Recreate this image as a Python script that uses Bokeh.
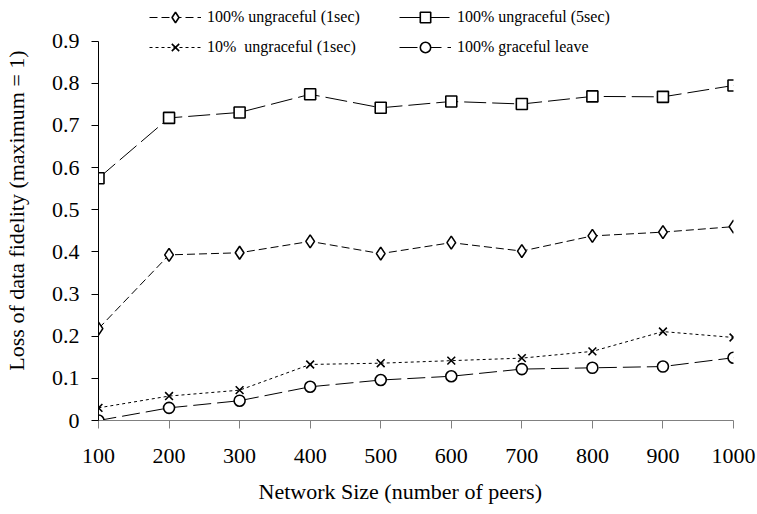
from bokeh.plotting import figure
from bokeh.models import Range1d, FixedTicker, CustomJSTickFormatter, Legend, LegendItem, Title
from bokeh.embed import file_html
from bokeh.resources import INLINE

network_size = [100, 200, 300, 400, 500, 600, 700, 800, 900, 1000]
ungraceful_1sec = [0.218, 0.393, 0.398, 0.425, 0.396, 0.422, 0.402, 0.438, 0.447, 0.460]
ungraceful_5sec = [0.575, 0.718, 0.731, 0.774, 0.742, 0.757, 0.751, 0.769, 0.768, 0.795]
ungraceful_10pct = [0.030, 0.058, 0.072, 0.133, 0.136, 0.142, 0.148, 0.164, 0.211, 0.197]
graceful_leave = [0.000, 0.030, 0.047, 0.080, 0.096, 0.105, 0.122, 0.125, 0.128, 0.149]
y_ticks = [0, 0.1, 0.2, 0.3, 0.4, 0.5, 0.6, 0.7, 0.8, 0.9]

FONT = "Liberation Serif"

p = figure(width=757, height=514, output_backend="svg", toolbar_location=None,
           x_range=Range1d(100, 1000), y_range=Range1d(0, 0.9966),
           min_border_left=97, min_border_right=24, min_border_top=0, min_border_bottom=94)
p.outline_line_color = None
p.xgrid.visible = False
p.ygrid.visible = False
p.background_fill_color = "white"

# x axis
p.xaxis.ticker = FixedTicker(ticks=network_size)
p.xaxis.axis_line_color = "#808080"
p.xaxis.major_tick_line_color = "#808080"
p.xaxis.major_tick_out = 8
p.xaxis.major_tick_in = 0
p.xaxis.minor_tick_line_color = None
p.xaxis.major_label_text_font = FONT
p.xaxis.major_label_text_font_size = "22px"
p.xaxis.major_label_text_color = "black"
p.xaxis.major_label_standoff = 20

x_title = Title(text="Network Size (number of peers)", align="left", offset=160,
                text_font=FONT, text_font_size="22px", text_font_style="normal",
                text_color="black", standoff=22)
p.add_layout(x_title, "below")

# y axis
p.yaxis.ticker = FixedTicker(ticks=y_ticks)
p.yaxis.bounds = (0, 0.9)
p.yaxis.formatter = CustomJSTickFormatter(code="return tick == 0 ? '0' : tick.toFixed(1);")
p.yaxis.axis_line_color = "black"
p.yaxis.major_tick_line_color = "black"
p.yaxis.major_tick_out = 7
p.yaxis.major_tick_in = 0
p.yaxis.minor_tick_line_color = None
p.yaxis.major_label_text_font = FONT
p.yaxis.major_label_text_font_size = "22px"
p.yaxis.major_label_text_color = "black"
p.yaxis.major_label_standoff = 12
p.yaxis.axis_label = "Loss of data fidelity (maximum = 1)"
p.yaxis.axis_label_text_font = FONT
p.yaxis.axis_label_text_font_size = "22px"
p.yaxis.axis_label_text_font_style = "normal"
p.yaxis.axis_label_text_color = "black"
p.yaxis.axis_label_standoff = 20

series = [
    (ungraceful_1sec, "diamond", 13, "8 4"),
    (ungraceful_5sec, "square", 11, "22 6"),
    (ungraceful_10pct, "x", 11, "3 3"),
    (graceful_leave, "circle", 11, "18 6"),
]
renderers = []
for vals, marker, size, dash in series:
    l = p.line(network_size, vals, line_color="black", line_width=1, line_dash=dash)
    s = p.scatter(network_size, vals, marker=marker, size=size, line_color="black",
                  fill_color="white", line_width=1.6)
    renderers.append([l, s])

def make_legend(items, x):
    return Legend(items=items, location=(x, 360), orientation="vertical",
                  glyph_width=52, glyph_height=26, spacing=4, padding=0, margin=0,
                  label_standoff=6, label_text_font=FONT, label_text_font_size="16px",
                  label_text_color="black", label_height=20,
                  background_fill_alpha=0, border_line_color=None)

leg1 = make_legend([LegendItem(label="100% ungraceful (1sec)", renderers=renderers[0]),
                    LegendItem(label="10%  ungraceful (1sec)", renderers=renderers[2])], 51)
leg2 = make_legend([LegendItem(label="100% ungraceful (5sec)", renderers=renderers[1]),
                    LegendItem(label="100% graceful leave", renderers=renderers[3])], 301)
p.add_layout(leg1, "center")
p.add_layout(leg2, "center")

open("out.html", "w").write(file_html(p, INLINE))
